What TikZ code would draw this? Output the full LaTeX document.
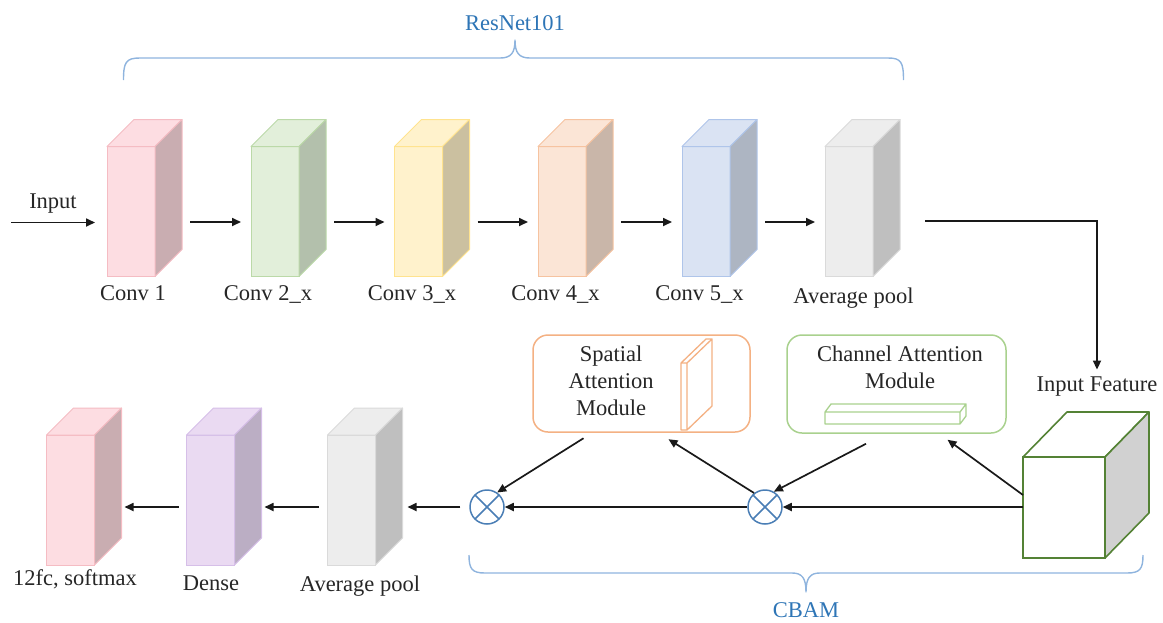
\documentclass[tikz,border=0pt]{standalone}
\usepackage{fontspec}
\setmainfont{Liberation Serif}
\usetikzlibrary{arrows.meta,calc}

% layer colours: front face, side face, outline
\definecolor{pinkF}{HTML}{FDDDE2}\definecolor{pinkS}{HTML}{C9ADB1}\definecolor{pinkL}{HTML}{F5BCC3}
\definecolor{greenF}{HTML}{E2EFDA}\definecolor{greenS}{HTML}{B3C0AC}\definecolor{greenL}{HTML}{BBD9A8}
\definecolor{yellowF}{HTML}{FFF2CC}\definecolor{yellowS}{HTML}{CBC0A0}\definecolor{yellowL}{HTML}{FFE38F}
\definecolor{orangeF}{HTML}{FBE5D6}\definecolor{orangeS}{HTML}{C9B6A9}\definecolor{orangeL}{HTML}{F6C3A0}
\definecolor{blueF}{HTML}{DAE3F3}\definecolor{blueS}{HTML}{ADB5C2}\definecolor{blueL}{HTML}{AFC5EA}
\definecolor{greyF}{HTML}{EDEDED}\definecolor{greyS}{HTML}{BFBFBF}\definecolor{greyL}{HTML}{DADADA}
\definecolor{purpleF}{HTML}{EADAF2}\definecolor{purpleS}{HTML}{BBAEC4}\definecolor{purpleL}{HTML}{D6BFE8}
\definecolor{braceC}{HTML}{8FB4DE}\definecolor{braceT}{HTML}{2E75B6}
\definecolor{otimesC}{HTML}{4A7EB5}
\definecolor{spatialC}{HTML}{F4B183}\definecolor{channelC}{HTML}{A9D18E}
\definecolor{featC}{HTML}{548235}

\tikzset{
  txt/.style={font=\fontsize{22.5}{27}\selectfont, inner sep=0pt, text=black!85},
  layer/.style={rectangle, minimum width=48pt, minimum height=130pt, inner sep=0pt, outer sep=0pt, line width=1pt},
  arr/.style={line width=1.7pt, black!90, -{Triangle[length=9pt,width=8pt]}},
  modbox/.style={rectangle, rounded corners=15pt, line width=1.5pt, fill=white},
  mult/.style={circle, draw=otimesC, line width=1.5pt, minimum size=34pt, inner sep=0pt,
    path picture={\draw[otimesC, line width=1.5pt]
      (path picture bounding box.north west) -- (path picture bounding box.south east)
      (path picture bounding box.north east) -- (path picture bounding box.south west);}},
  bracepath/.style={draw=braceC, line width=1.4pt, line join=round},
  bracelabel/.style={font=\fontsize{22.5}{27}\selectfont, text=braceT, inner sep=0pt}
}

% a layer drawn as a box: front face as a named node, then top and side faces
\newcommand\layerbox[6]{% name, x, y, front, side, outline
  \node[layer, fill=#4, draw=#6] (#1) at (#2,#3) {};
  \filldraw[fill=#4, draw=#6, line width=1pt, line join=round]
    (#1.north west) -- ++(27,-27) -- ++(48,0) -- (#1.north east) -- cycle;
  \filldraw[fill=#5, draw=#6, line width=1pt, line join=round]
    (#1.north east) -- ++(27,-27) -- ++(0,130) -- (#1.south east) -- cycle;
}

\begin{document}
\begin{tikzpicture}[x=1pt, y=-1pt]
\useasboundingbox (0,0) rectangle (1163,622);

% ---------------- ResNet101 backbone ----------------
\layerbox{c1}{131}{211.5}{pinkF}{pinkS}{pinkL}
\layerbox{c2}{275}{211.5}{greenF}{greenS}{greenL}
\layerbox{c3}{418.5}{211.5}{yellowF}{yellowS}{yellowL}
\layerbox{c4}{562}{211.5}{orangeF}{orangeS}{orangeL}
\layerbox{c5}{706}{211.5}{blueF}{blueS}{blueL}
\layerbox{p1}{849}{211.5}{greyF}{greyS}{greyL}

\node[txt, anchor=base] (lc1) at (133,300) {Conv 1};
\node[txt, anchor=base] (lc2) at (268,300) {Conv 2\_x};
\node[txt, anchor=base] (lc3) at (412,300) {Conv 3\_x};
\node[txt, anchor=base] (lc4) at (555.5,300) {Conv 4\_x};
\node[txt, anchor=base] (lc5) at (699.5,300) {Conv 5\_x};
\node[txt, anchor=base] (lp1) at (853.5,303) {Average pool};

\coordinate (inp) at (11,222.5);
\node[txt, anchor=base] (linp) at (53,208) {Input};
\draw[arr] (inp) -- ([xshift=-12pt,yshift=-11pt]c1.west);
\foreach \a/\b in {c1/c2, c2/c3, c3/c4, c4/c5, c5/p1}
  \draw[arr] ([xshift=35pt,yshift=-10.5pt]\a.east) -- ([xshift=-10pt,yshift=-10.5pt]\b.west);

% ResNet101 brace
\draw[bracepath] (123.5,80) .. controls (123.5,62) and (126,58) .. (140,58)
  -- (500,58) .. controls (511,58) and (515,53) .. (515,40)
  .. controls (515,53) and (519,58) .. (530,58)
  -- (888,58) .. controls (901,58) and (903.5,62) .. (903.5,80);
\node[bracelabel, anchor=base] (lres) at (515,30) {ResNet101};

% ---------------- CBAM ----------------
\node[txt, anchor=base] (lfeat) at (1097,391.5) {Input Feature};
\draw[arr] ([xshift=52pt,yshift=-9.5pt]p1.east) -| ([yshift=7pt]lfeat.north);

% input feature cube
\node[rectangle, minimum width=82pt, minimum height=101pt, inner sep=0pt, outer sep=0pt,
  fill=white, draw=featC, line width=1.6pt] (feat) at (1064,507.5) {};
\filldraw[fill=white, draw=featC, line width=1.6pt, line join=round]
  (feat.north west) -- ++(44,-45) -- ++(82,0) -- (feat.north east) -- cycle;
\filldraw[fill=black!18, draw=featC, line width=1.6pt, line join=round]
  (feat.north east) -- ++(44,-45) -- ++(0,101) -- (feat.south east) -- cycle;

% attention modules
\node[modbox, draw=spatialC, minimum width=217pt, minimum height=97pt] (sp) at (641.5,383.5) {};
\node[txt, align=center] (lsp) at (611,381) {Spatial\\Attention\\Module};
\filldraw[fill=white, draw=spatialC, line width=1.3pt, line join=round]
  (681,363) -- (706,339) -- (712,339) -- (687,363) -- cycle
  (687,363) -- (712,339) -- (712,406) -- (687,430) -- cycle
  (681,363) rectangle (687,430);

\node[modbox, draw=channelC, minimum width=219pt, minimum height=98pt] (ch) at (896.5,384) {};
\node[txt, align=center] (lch) at (900,367) {Channel Attention\\Module};
\filldraw[fill=white, draw=channelC, line width=1.3pt, line join=round]
  (825,412) -- (831,404) -- (966,404) -- (960,412) -- cycle
  (960,412) -- (966,404) -- (966,416) -- (960,424) -- cycle
  (825,412) rectangle (960,424);

% element-wise multiplications
\node[mult] (m2) at (765,507) {};
\node[mult] (m1) at (487,507) {};

\draw[arr] (feat.west |- m2) -- (m2.east);
\draw[arr] (m2.west) -- (m1.east);
\draw[arr] ([yshift=12.5pt]feat.west) -- ([xshift=51pt,yshift=-6pt]ch.south);
\draw[arr] ([xshift=-30.5pt,yshift=-10pt]ch.south) -- (m2.60);
\draw[arr] (m2.128) -- ([xshift=27pt,yshift=-6.5pt]sp.south);
\draw[arr] ([xshift=-58pt,yshift=-5.5pt]sp.south) -- (m1.55);

% CBAM brace
\draw[bracepath] (469,555) .. controls (469,569) and (472,573) .. (485,573)
  -- (792,573) .. controls (802,573) and (806,578) .. (806,592)
  .. controls (806,578) and (810,573) .. (820,573)
  -- (1127,573) .. controls (1140,573) and (1143,569) .. (1143,555);
\node[bracelabel] (lcbam) at (806,610) {CBAM};

% ---------------- classifier head ----------------
\layerbox{p2}{351.5}{500}{greyF}{greyS}{greyL}
\layerbox{dn}{210.5}{500}{purpleF}{purpleS}{purpleL}
\layerbox{fc}{70.5}{500}{pinkF}{pinkS}{pinkL}

\node[txt, anchor=base] (lp2) at (360,591.5) {Average pool};
\node[txt, anchor=base] (ldn) at (211,590) {Dense};
\node[txt, anchor=base] (lfc) at (75,585) {12fc, softmax};

\draw[arr] ([xshift=-9pt]m1.west) -- ([xshift=32pt]p2.east |- m1);
\draw[arr] ([xshift=-8.5pt,yshift=-7pt]p2.west) -- ([xshift=30pt,yshift=-7pt]dn.east);
\draw[arr] ([xshift=-8pt,yshift=-7pt]dn.west) -- ([xshift=30pt,yshift=-7pt]fc.east);
\end{tikzpicture}
\end{document}
